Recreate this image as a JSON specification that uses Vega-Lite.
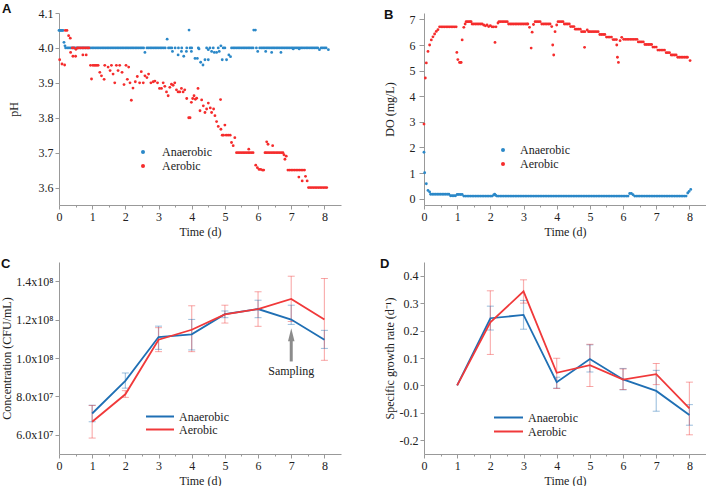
{
"$schema": "https://vega.github.io/schema/vega-lite/v6.json",
"padding": {"left": 0, "top": 3, "right": 0, "bottom": 0},
"background": "white",
"columns": 2,
"bounds": "flush",
"spacing": {"row": 57, "column": 83},
"resolve": {"scale": {"color": "independent"}, "legend": {"color": "independent"}},
"config": {
  "view": {"stroke": null},
  "font": "Liberation Serif",
  "axis": {"domainColor": "#999", "tickColor": "#999", "labelColor": "#222", "titleColor": "#222", "labelFont": "Liberation Serif", "titleFont": "Liberation Serif", "labelFontSize": 12, "titleFontSize": 12, "titleFontWeight": "normal", "grid": false, "tickSize": 4, "labelPadding": 2, "labelOverlap": false},
  "legend": {"labelFont": "Liberation Serif", "labelFontSize": 12, "labelColor": "#222"}
},
"datasets": {
"pha": [{"t":0,"v":4.05},{"t":0.03,"v":4.05},{"t":0.06,"v":4.05},{"t":0.09,"v":4.05},{"t":0.12,"v":4.05},{"t":0.15,"v":4.016},{"t":0.18,"v":4.006},
{"t":0.2,"v":4},{"t":0.25,"v":4},{"t":0.3,"v":4},{"t":0.35,"v":4},{"t":0.4,"v":4},{"t":0.45,"v":4},{"t":0.5,"v":4},{"t":0.55,"v":4},{"t":0.6,"v":4},{"t":0.65,"v":4},{"t":0.7,"v":4},{"t":0.75,"v":4},{"t":0.8,"v":4},{"t":0.85,"v":4},{"t":0.9,"v":4},{"t":0.95,"v":4},{"t":1,"v":4},{"t":1.05,"v":4},{"t":1.1,"v":4},{"t":1.15,"v":4},{"t":1.2,"v":4},{"t":1.25,"v":4},{"t":1.3,"v":4},{"t":1.35,"v":4},{"t":1.4,"v":4},{"t":1.45,"v":4},{"t":1.5,"v":4},{"t":1.55,"v":4},{"t":1.6,"v":4},{"t":1.65,"v":4},{"t":1.7,"v":4},{"t":1.75,"v":4},{"t":1.8,"v":4},{"t":1.85,"v":4},{"t":1.9,"v":4},{"t":1.95,"v":4},{"t":2,"v":4},{"t":2.05,"v":4},{"t":2.1,"v":4},{"t":2.15,"v":4},{"t":2.2,"v":4},{"t":2.25,"v":4},{"t":2.3,"v":4},{"t":2.35,"v":4},{"t":2.4,"v":4},{"t":2.45,"v":4},{"t":2.5,"v":4},{"t":2.55,"v":4},{"t":2.65,"v":4},{"t":2.7,"v":4},{"t":2.75,"v":4},{"t":2.8,"v":4},{"t":2.85,"v":4},{"t":2.9,"v":4},{"t":2.95,"v":4},{"t":3,"v":4},{"t":3.05,"v":4},{"t":3.1,"v":4},{"t":3.15,"v":4},{"t":3.2,"v":4},{"t":3.3,"v":4},{"t":3.35,"v":4},{"t":3.4,"v":4},{"t":3.5,"v":4},{"t":3.6,"v":4},{"t":3.7,"v":4},{"t":3.85,"v":4},{"t":3.95,"v":4},{"t":4.0,"v":4},{"t":4.2,"v":4},{"t":4.45,"v":4},{"t":4.55,"v":4},{"t":4.65,"v":4},{"t":4.8,"v":4},{"t":4.95,"v":4},{"t":5.0,"v":4},{"t":5.2,"v":4},{"t":5.25,"v":4},{"t":5.3,"v":4},{"t":5.35,"v":4},{"t":5.4,"v":4},{"t":5.45,"v":4},{"t":5.5,"v":4},{"t":5.55,"v":4},{"t":5.6,"v":4},{"t":5.65,"v":4},{"t":5.7,"v":4},{"t":5.75,"v":4},{"t":5.8,"v":4},{"t":5.85,"v":4},{"t":5.95,"v":4},{"t":6.05,"v":4},{"t":6.1,"v":4},{"t":6.15,"v":4},{"t":6.2,"v":4},{"t":6.25,"v":4},{"t":6.3,"v":4},{"t":6.35,"v":4},{"t":6.4,"v":4},{"t":6.45,"v":4},{"t":6.5,"v":4},{"t":6.55,"v":4},{"t":6.6,"v":4},{"t":6.65,"v":4},{"t":6.7,"v":4},{"t":6.75,"v":4},{"t":6.8,"v":4},{"t":6.85,"v":4},{"t":6.9,"v":4},{"t":6.95,"v":4},{"t":7,"v":4},{"t":7.05,"v":4},{"t":7.1,"v":4},{"t":7.15,"v":4},{"t":7.2,"v":4},{"t":7.25,"v":4},{"t":7.3,"v":4},{"t":7.35,"v":4},{"t":7.4,"v":4},{"t":7.45,"v":4},{"t":7.5,"v":4},{"t":7.55,"v":4},{"t":7.6,"v":4},{"t":7.65,"v":4},{"t":7.7,"v":4},{"t":7.75,"v":4},{"t":7.8,"v":4},{"t":7.9,"v":4},{"t":7.95,"v":4},{"t":8,"v":4},{"t":8.05,"v":4},
{"t":2.59,"v":3.987},{"t":3.26,"v":4.025},{"t":3.42,"v":3.99},{"t":3.59,"v":3.98},{"t":3.69,"v":3.99},{"t":3.76,"v":3.976},{"t":3.84,"v":3.99},{"t":3.92,"v":4.051},{"t":3.99,"v":3.99},{"t":4.1,"v":3.97},{"t":4.17,"v":3.97},{"t":4.22,"v":3.997},{"t":4.27,"v":3.959},{"t":4.34,"v":3.951},{"t":4.4,"v":3.966},{"t":4.5,"v":3.966},{"t":4.5,"v":3.995},{"t":4.6,"v":3.99},{"t":4.68,"v":3.987},{"t":4.75,"v":3.987},{"t":4.83,"v":3.99},{"t":4.88,"v":4.006},{"t":4.92,"v":3.966},{"t":5.05,"v":3.966},{"t":5.12,"v":3.98},{"t":5.17,"v":3.975},{"t":5.87,"v":4.051},{"t":5.92,"v":4.051},{"t":5.99,"v":3.99},{"t":6.23,"v":3.99},{"t":6.41,"v":3.987},{"t":6.69,"v":3.987},{"t":7.06,"v":3.997},{"t":7.24,"v":3.997},{"t":7.85,"v":3.995},{"t":8.12,"v":3.995}],
"phb": [{"t":0.02,"v":3.966},{"t":0.09,"v":3.954},{"t":0.17,"v":3.951},{"t":0.19,"v":4.05},{"t":0.24,"v":4.05},{"t":0.29,"v":4.035},{"t":0.34,"v":4.028},{"t":0.35,"v":3.987},{"t":0.42,"v":3.976},{"t":0.5,"v":3.976},{"t":0.4,"v":4},{"t":0.45,"v":4},{"t":0.55,"v":4},{"t":0.6,"v":4},{"t":0.65,"v":4},{"t":0.7,"v":4},{"t":0.75,"v":4},{"t":0.8,"v":4},{"t":0.85,"v":4},{"t":0.9,"v":4},{"t":0.51,"v":3.996},{"t":0.72,"v":3.98},{"t":0.82,"v":3.98},
{"t":0.95,"v":3.95},{"t":0.98,"v":3.911},{"t":1.02,"v":3.95},{"t":1.06,"v":3.95},{"t":1.1,"v":3.95},{"t":1.14,"v":3.95},{"t":1.18,"v":3.95},{"t":1.23,"v":3.93},{"t":1.28,"v":3.92},{"t":1.36,"v":3.91},{"t":1.38,"v":3.95},{"t":1.48,"v":3.945},{"t":1.54,"v":3.935},{"t":1.58,"v":3.95},{"t":1.63,"v":3.925},{"t":1.68,"v":3.9},{"t":1.73,"v":3.95},{"t":1.78,"v":3.935},{"t":1.83,"v":3.95},{"t":1.9,"v":3.93},{"t":1.96,"v":3.895},{"t":2.02,"v":3.95},{"t":2.06,"v":3.91},{"t":2.1,"v":3.945},{"t":2.14,"v":3.9},{"t":2.18,"v":3.85},{"t":2.23,"v":3.885},{"t":2.3,"v":3.903},{"t":2.36,"v":3.918},{"t":2.43,"v":3.9},{"t":2.48,"v":3.932},{"t":2.54,"v":3.9},{"t":2.59,"v":3.92},{"t":2.65,"v":3.915},{"t":2.7,"v":3.925},{"t":2.77,"v":3.9},{"t":2.84,"v":3.903},{"t":2.89,"v":3.905},{"t":2.97,"v":3.9},{"t":3.03,"v":3.884},{"t":3.09,"v":3.884},{"t":3.14,"v":3.9},{"t":3.19,"v":3.89},{"t":3.24,"v":3.874},{"t":3.29,"v":3.863},{"t":3.34,"v":3.887},{"t":3.39,"v":3.896},{"t":3.44,"v":3.893},{"t":3.49,"v":3.9},{"t":3.54,"v":3.88},{"t":3.59,"v":3.874},{"t":3.64,"v":3.874},{"t":3.69,"v":3.884},{"t":3.74,"v":3.874},{"t":3.79,"v":3.88},{"t":3.85,"v":3.855},{"t":3.91,"v":3.8},{"t":3.95,"v":3.8},{"t":3.99,"v":3.844},{"t":4.03,"v":3.855},{"t":4.07,"v":3.863},{"t":4.11,"v":3.853},{"t":4.15,"v":3.856},{"t":4.19,"v":3.884},{"t":4.25,"v":3.82},{"t":4.3,"v":3.851},{"t":4.35,"v":3.834},{"t":4.4,"v":3.815},{"t":4.45,"v":3.825},{"t":4.5,"v":3.842},{"t":4.56,"v":3.828},{"t":4.6,"v":3.815},{"t":4.66,"v":3.825},{"t":4.7,"v":3.806},{"t":4.75,"v":3.789},{"t":4.8,"v":3.775},{"t":4.87,"v":3.852},{"t":4.88,"v":3.767},{"t":4.92,"v":3.75},{"t":4.96,"v":3.75},{"t":5.0,"v":3.779},{"t":5.04,"v":3.75},{"t":5.1,"v":3.75},{"t":5.16,"v":3.75},{"t":5.2,"v":3.729},{"t":5.25,"v":3.72},{"t":5.3,"v":3.743},
{"t":5.35,"v":3.7},{"t":5.4,"v":3.7},{"t":5.45,"v":3.7},{"t":5.5,"v":3.7},{"t":5.55,"v":3.7},{"t":5.6,"v":3.7},{"t":5.65,"v":3.7},{"t":5.7,"v":3.7},{"t":5.75,"v":3.7},{"t":5.8,"v":3.7},{"t":5.85,"v":3.7},{"t":5.72,"v":3.71},
{"t":5.93,"v":3.664},{"t":5.98,"v":3.657},{"t":6.03,"v":3.652},{"t":6.08,"v":3.652},{"t":6.13,"v":3.65},{"t":6.17,"v":3.65},{"t":6.26,"v":3.731},{"t":6.3,"v":3.724},
{"t":6.21,"v":3.7},{"t":6.25,"v":3.7},{"t":6.3,"v":3.7},{"t":6.35,"v":3.7},{"t":6.4,"v":3.7},{"t":6.45,"v":3.7},{"t":6.5,"v":3.7},{"t":6.55,"v":3.7},{"t":6.6,"v":3.7},{"t":6.65,"v":3.7},{"t":6.7,"v":3.7},{"t":6.75,"v":3.7},{"t":6.44,"v":3.72},
{"t":6.78,"v":3.694},{"t":6.81,"v":3.681},{"t":6.85,"v":3.69},
{"t":6.9,"v":3.65},{"t":6.95,"v":3.65},{"t":7.0,"v":3.65},{"t":7.05,"v":3.65},{"t":7.1,"v":3.65},{"t":7.15,"v":3.65},{"t":7.2,"v":3.65},{"t":7.25,"v":3.65},{"t":7.3,"v":3.65},{"t":7.35,"v":3.65},{"t":7.4,"v":3.65},{"t":7.23,"v":3.63},{"t":7.33,"v":3.619},{"t":7.43,"v":3.632},{"t":7.48,"v":3.619},
{"t":7.52,"v":3.6},{"t":7.57,"v":3.6},{"t":7.62,"v":3.6},{"t":7.67,"v":3.6},{"t":7.72,"v":3.6},{"t":7.77,"v":3.6},{"t":7.82,"v":3.6},{"t":7.87,"v":3.6},{"t":7.92,"v":3.6},{"t":7.97,"v":3.6},{"t":8.02,"v":3.6},{"t":8.07,"v":3.6}],
"doa": [{"t":0,"v":1.81},{"t":0.02,"v":1.01},{"t":0.07,"v":0.58},{"t":0.12,"v":0.32},{"t":0.17,"v":0.26},
{"t":0.2,"v":0.17},{"t":0.25,"v":0.17},{"t":0.3,"v":0.17},{"t":0.35,"v":0.17},{"t":0.4,"v":0.17},{"t":0.45,"v":0.17},{"t":0.5,"v":0.17},{"t":0.55,"v":0.17},{"t":0.6,"v":0.17},{"t":0.65,"v":0.17},{"t":0.7,"v":0.17},{"t":0.75,"v":0.17},
{"t":0.8,"v":0.11},{"t":0.85,"v":0.11},{"t":0.9,"v":0.11},{"t":0.95,"v":0.11},
{"t":1.0,"v":0.16},{"t":1.05,"v":0.16},{"t":1.1,"v":0.16},{"t":1.15,"v":0.16},
{"t":1.2,"v":0.1},{"t":1.25,"v":0.1},{"t":1.3,"v":0.1},{"t":1.35,"v":0.1},{"t":1.4,"v":0.1},{"t":1.45,"v":0.1},{"t":1.5,"v":0.1},{"t":1.55,"v":0.1},{"t":1.6,"v":0.1},{"t":1.65,"v":0.1},{"t":1.7,"v":0.1},{"t":1.75,"v":0.1},{"t":1.8,"v":0.1},{"t":1.85,"v":0.1},{"t":1.9,"v":0.1},{"t":1.95,"v":0.1},{"t":2.0,"v":0.1},{"t":2.05,"v":0.1},
{"t":2.1,"v":0.14},{"t":2.13,"v":0.17},{"t":2.16,"v":0.13},
{"t":2.2,"v":0.1},{"t":2.25,"v":0.1},{"t":2.3,"v":0.1},{"t":2.35,"v":0.1},{"t":2.4,"v":0.1},{"t":2.45,"v":0.1},{"t":2.5,"v":0.1},{"t":2.55,"v":0.1},{"t":2.6,"v":0.1},{"t":2.65,"v":0.1},{"t":2.7,"v":0.1},{"t":2.75,"v":0.1},{"t":2.8,"v":0.1},{"t":2.85,"v":0.1},{"t":2.9,"v":0.1},{"t":2.95,"v":0.1},{"t":3.0,"v":0.1},{"t":3.05,"v":0.1},{"t":3.1,"v":0.1},{"t":3.15,"v":0.1},{"t":3.2,"v":0.1},{"t":3.25,"v":0.1},{"t":3.3,"v":0.1},{"t":3.35,"v":0.1},{"t":3.4,"v":0.1},{"t":3.45,"v":0.1},{"t":3.5,"v":0.1},{"t":3.55,"v":0.1},{"t":3.6,"v":0.1},{"t":3.65,"v":0.1},{"t":3.7,"v":0.1},{"t":3.75,"v":0.1},{"t":3.8,"v":0.1},{"t":3.85,"v":0.1},{"t":3.9,"v":0.1},{"t":3.95,"v":0.1},{"t":4.0,"v":0.1},{"t":4.05,"v":0.1},{"t":4.1,"v":0.1},{"t":4.15,"v":0.1},{"t":4.2,"v":0.1},{"t":4.25,"v":0.1},{"t":4.3,"v":0.1},{"t":4.35,"v":0.1},{"t":4.4,"v":0.1},{"t":4.45,"v":0.1},{"t":4.5,"v":0.1},{"t":4.55,"v":0.1},{"t":4.6,"v":0.1},{"t":4.65,"v":0.1},{"t":4.7,"v":0.1},{"t":4.75,"v":0.1},{"t":4.8,"v":0.1},{"t":4.85,"v":0.1},{"t":4.9,"v":0.1},{"t":4.95,"v":0.1},{"t":5.0,"v":0.1},{"t":5.05,"v":0.1},{"t":5.1,"v":0.1},{"t":5.15,"v":0.1},{"t":5.2,"v":0.1},{"t":5.25,"v":0.1},{"t":5.3,"v":0.1},{"t":5.35,"v":0.1},{"t":5.4,"v":0.1},{"t":5.45,"v":0.1},{"t":5.5,"v":0.1},{"t":5.55,"v":0.1},{"t":5.6,"v":0.1},{"t":5.65,"v":0.1},{"t":5.7,"v":0.1},{"t":5.75,"v":0.1},{"t":5.8,"v":0.1},{"t":5.85,"v":0.1},{"t":5.9,"v":0.1},{"t":5.95,"v":0.1},{"t":6.0,"v":0.1},{"t":6.05,"v":0.1},{"t":6.1,"v":0.1},{"t":6.15,"v":0.1},
{"t":6.2,"v":0.2},{"t":6.25,"v":0.2},{"t":6.3,"v":0.15},
{"t":6.35,"v":0.1},{"t":6.4,"v":0.1},{"t":6.45,"v":0.1},{"t":6.5,"v":0.1},{"t":6.55,"v":0.1},{"t":6.6,"v":0.1},{"t":6.65,"v":0.1},{"t":6.7,"v":0.1},{"t":6.75,"v":0.1},{"t":6.8,"v":0.1},{"t":6.85,"v":0.1},{"t":6.9,"v":0.1},{"t":6.95,"v":0.1},{"t":7.0,"v":0.1},{"t":7.05,"v":0.1},{"t":7.1,"v":0.1},{"t":7.15,"v":0.1},{"t":7.2,"v":0.1},{"t":7.25,"v":0.1},{"t":7.3,"v":0.1},{"t":7.35,"v":0.1},{"t":7.4,"v":0.1},{"t":7.45,"v":0.1},{"t":7.5,"v":0.1},{"t":7.55,"v":0.1},{"t":7.6,"v":0.1},{"t":7.65,"v":0.1},{"t":7.7,"v":0.1},{"t":7.75,"v":0.1},{"t":7.8,"v":0.1},{"t":7.85,"v":0.1},{"t":7.9,"v":0.1},
{"t":7.95,"v":0.22},{"t":7.99,"v":0.28},{"t":8.04,"v":0.36}],
"dob": [{"t":0,"v":2.91},{"t":0.04,"v":4.71},{"t":0.07,"v":5.3},{"t":0.12,"v":5.75},{"t":0.17,"v":6.0},{"t":0.22,"v":6.2},{"t":0.27,"v":6.32},{"t":0.32,"v":6.43},{"t":0.37,"v":6.53},{"t":0.42,"v":6.6},
{"t":0.47,"v":6.71},{"t":0.52,"v":6.71},{"t":0.57,"v":6.71},{"t":0.62,"v":6.71},{"t":0.67,"v":6.71},{"t":0.72,"v":6.71},{"t":0.77,"v":6.71},{"t":0.82,"v":6.71},{"t":0.87,"v":6.71},{"t":0.92,"v":6.71},{"t":0.97,"v":6.71},
{"t":0.99,"v":5.71},{"t":1.02,"v":5.43},{"t":1.07,"v":5.32},{"t":1.1,"v":5.32},{"t":1.12,"v":5.32},{"t":1.15,"v":6.2},{"t":1.2,"v":6.69},{"t":1.24,"v":6.82},
{"t":1.27,"v":6.91},{"t":1.31,"v":6.91},{"t":1.35,"v":6.91},{"t":1.39,"v":6.91},{"t":1.42,"v":6.91},
{"t":1.45,"v":6.82},{"t":1.5,"v":6.82},{"t":1.55,"v":6.82},{"t":1.6,"v":6.82},{"t":1.65,"v":6.82},{"t":1.7,"v":6.82},{"t":1.75,"v":6.82},
{"t":1.8,"v":6.78},{"t":1.85,"v":6.75},{"t":1.9,"v":6.78},{"t":1.95,"v":6.72},{"t":2.0,"v":6.76},{"t":2.05,"v":6.71},{"t":2.1,"v":6.71},{"t":2.14,"v":6.1},{"t":2.17,"v":6.71},{"t":2.23,"v":6.86},
{"t":2.26,"v":6.91},{"t":2.31,"v":6.91},{"t":2.36,"v":6.91},{"t":2.41,"v":6.91},{"t":2.46,"v":6.91},{"t":2.51,"v":6.91},
{"t":2.55,"v":6.82},{"t":2.6,"v":6.82},{"t":2.65,"v":6.82},{"t":2.7,"v":6.82},{"t":2.75,"v":6.82},{"t":2.8,"v":6.82},{"t":2.85,"v":6.82},{"t":2.9,"v":6.82},{"t":2.95,"v":6.82},{"t":3.0,"v":6.82},{"t":3.05,"v":6.82},{"t":3.1,"v":6.82},{"t":3.13,"v":6.82},
{"t":3.18,"v":6.69},{"t":3.23,"v":5.88},{"t":3.26,"v":6.5},{"t":3.3,"v":6.8},
{"t":3.35,"v":6.91},{"t":3.4,"v":6.91},{"t":3.45,"v":6.91},{"t":3.5,"v":6.91},
{"t":3.55,"v":6.82},{"t":3.6,"v":6.82},{"t":3.65,"v":6.82},{"t":3.7,"v":6.82},{"t":3.75,"v":6.82},{"t":3.8,"v":6.82},
{"t":3.85,"v":6.72},{"t":3.88,"v":6.0},{"t":3.91,"v":5.61},{"t":3.95,"v":6.52},{"t":4.0,"v":6.78},
{"t":4.04,"v":6.91},{"t":4.09,"v":6.91},{"t":4.14,"v":6.91},{"t":4.19,"v":6.91},
{"t":4.23,"v":6.82},{"t":4.28,"v":6.82},{"t":4.33,"v":6.82},{"t":4.38,"v":6.82},
{"t":4.42,"v":6.72},{"t":4.47,"v":6.72},{"t":4.52,"v":6.72},
{"t":4.56,"v":6.62},{"t":4.61,"v":6.62},{"t":4.66,"v":6.62},{"t":4.71,"v":6.62},
{"t":4.75,"v":6.52},{"t":4.8,"v":6.52},{"t":4.85,"v":6.52},{"t":4.84,"v":5.91},{"t":4.92,"v":6.59},
{"t":4.96,"v":6.52},{"t":5.0,"v":6.52},{"t":5.05,"v":6.52},{"t":5.1,"v":6.52},{"t":5.15,"v":6.52},{"t":5.2,"v":6.52},{"t":5.25,"v":6.52},
{"t":5.3,"v":6.41},{"t":5.35,"v":6.41},{"t":5.4,"v":6.41},{"t":5.45,"v":6.41},
{"t":5.5,"v":6.31},{"t":5.55,"v":6.31},{"t":5.6,"v":6.31},{"t":5.65,"v":6.31},
{"t":5.7,"v":6.21},{"t":5.75,"v":6.21},{"t":5.8,"v":6.21},
{"t":5.81,"v":6.0},{"t":5.83,"v":5.52},{"t":5.86,"v":5.32},{"t":5.91,"v":6.17},{"t":5.96,"v":6.3},
{"t":6.02,"v":6.22},{"t":6.07,"v":6.22},{"t":6.12,"v":6.22},{"t":6.17,"v":6.22},{"t":6.22,"v":6.22},{"t":6.27,"v":6.22},{"t":6.32,"v":6.22},{"t":6.37,"v":6.22},{"t":6.42,"v":6.22},
{"t":6.46,"v":6.12},{"t":6.51,"v":6.12},{"t":6.56,"v":6.12},{"t":6.61,"v":6.12},
{"t":6.66,"v":6.02},{"t":6.71,"v":6.02},{"t":6.76,"v":6.02},{"t":6.81,"v":6.02},{"t":6.86,"v":6.02},
{"t":6.9,"v":5.92},{"t":6.95,"v":5.92},{"t":7.0,"v":5.92},
{"t":7.05,"v":5.8},{"t":7.1,"v":5.8},{"t":7.15,"v":5.8},{"t":7.2,"v":5.8},{"t":7.25,"v":5.8},
{"t":7.3,"v":5.7},{"t":7.35,"v":5.7},{"t":7.4,"v":5.7},
{"t":7.45,"v":5.61},{"t":7.5,"v":5.61},{"t":7.55,"v":5.61},{"t":7.6,"v":5.61},
{"t":7.65,"v":5.52},{"t":7.7,"v":5.52},{"t":7.75,"v":5.52},{"t":7.8,"v":5.52},{"t":7.85,"v":5.52},{"t":7.9,"v":5.52},{"t":7.94,"v":5.52},
{"t":8.02,"v":5.39}],
"concAn": [
{"d":1,"v":7.11e7,"lo":6.68e7,"hi":7.54e7},
{"d":2,"v":8.81e7,"lo":8.43e7,"hi":9.22e7},
{"d":3,"v":1.109e8,"lo":1.045e8,"hi":1.166e8},
{"d":4,"v":1.123e8,"lo":1.042e8,"hi":1.201e8},
{"d":5,"v":1.228e8,"lo":1.21e8,"hi":1.245e8},
{"d":6,"v":1.255e8,"lo":1.21e8,"hi":1.301e8},
{"d":7,"v":1.2e8,"lo":1.175e8,"hi":1.275e8},
{"d":8,"v":1.095e8,"lo":1.05e8,"hi":1.144e8}],
"concAe": [
{"d":1,"v":6.68e7,"lo":5.83e7,"hi":7.53e7},
{"d":2,"v":8.11e7,"lo":7.95e7,"hi":8.3e7},
{"d":3,"v":1.095e8,"lo":1.033e8,"hi":1.158e8},
{"d":4,"v":1.147e8,"lo":1.033e8,"hi":1.272e8},
{"d":5,"v":1.227e8,"lo":1.182e8,"hi":1.275e8},
{"d":6,"v":1.255e8,"lo":1.165e8,"hi":1.345e8},
{"d":7,"v":1.308e8,"lo":1.19e8,"hi":1.426e8},
{"d":8,"v":1.201e8,"lo":9.88e7,"hi":1.414e8}],
"rate": [
{"s":"Anaerobic","d":1,"v":0},
{"s":"Anaerobic","d":2,"v":0.245,"lo":0.202,"hi":0.289},
{"s":"Anaerobic","d":3,"v":0.257,"lo":0.205,"hi":0.31},
{"s":"Anaerobic","d":4,"v":0.012,"lo":-0.01,"hi":0.03},
{"s":"Anaerobic","d":5,"v":0.096,"lo":0.049,"hi":0.148},
{"s":"Anaerobic","d":6,"v":0.022,"lo":-0.016,"hi":0.062},
{"s":"Anaerobic","d":7,"v":-0.02,"lo":-0.094,"hi":0.055},
{"s":"Anaerobic","d":8,"v":-0.108,"lo":-0.145,"hi":-0.07},
{"s":"Aerobic","d":1,"v":0},
{"s":"Aerobic","d":2,"v":0.23,"lo":0.113,"hi":0.345},
{"s":"Aerobic","d":3,"v":0.343,"lo":0.3,"hi":0.385},
{"s":"Aerobic","d":4,"v":0.046,"lo":-0.011,"hi":0.099},
{"s":"Aerobic","d":5,"v":0.074,"lo":-0.004,"hi":0.15},
{"s":"Aerobic","d":6,"v":0.021,"lo":-0.015,"hi":0.06},
{"s":"Aerobic","d":7,"v":0.041,"lo":0.003,"hi":0.08},
{"s":"Aerobic","d":8,"v":-0.084,"lo":-0.18,"hi":0.012}]
},
"concat": [
{
  "width": 282, "height": 192,
  "title": {"text": "A", "anchor": "start", "frame": "group", "dx": -57, "offset": -9, "font": "Liberation Sans", "fontSize": 13, "fontWeight": "bold", "color": "#111"},
  "layer": [
    {"data": {"name": "pha"}, "mark": {"type": "point", "filled": true, "size": 8, "opacity": 1},
     "encoding": {
       "x": {"field": "t", "type": "quantitative", "scale": {"domain": [0, 8.5], "nice": false, "zero": false},
             "axis": {"title": "Time (d)", "values": [0,0.5,1,1.5,2,2.5,3,3.5,4,4.5,5,5.5,6,6.5,7,7.5,8], "tickCount": 100, "labelExpr": "datum.value % 1 == 0 ? format(datum.value, 'd') : ''", "tickSize": {"condition": {"test": "datum.value % 1 != 0", "value": 2}, "value": 4}, "labelFlush": false, "labelOverlap": false, "titlePadding": 4}},
       "y": {"field": "v", "type": "quantitative", "scale": {"domain": [3.55, 4.1], "nice": false, "zero": false},
             "axis": {"title": "pH", "values": [3.6, 3.7, 3.8, 3.9, 4.0, 4.1], "tickCount": 100, "format": ".1f", "titlePadding": 18, "labelOverlap": false}},
       "color": {"datum": "Anaerobic", "type": "nominal", "scale": {"domain": ["Anaerobic", "Aerobic"], "range": ["#2b88c8", "#f52c2c"]},
                 "legend": {"title": null, "orient": "none", "legendX": 78, "legendY": 133, "symbolType": "circle", "symbolSize": 16, "labelOffset": 13, "rowPadding": 2, "symbolOpacity": 1}}
     }},
    {"data": {"name": "phb"}, "mark": {"type": "point", "filled": true, "size": 8, "opacity": 1},
     "encoding": {"x": {"field": "t", "type": "quantitative"}, "y": {"field": "v", "type": "quantitative"}, "color": {"datum": "Aerobic", "type": "nominal"}}}
  ]
},
{
  "width": 282, "height": 192,
  "title": {"text": "B", "anchor": "start", "frame": "group", "dx": -40, "offset": -9, "font": "Liberation Sans", "fontSize": 13, "fontWeight": "bold", "color": "#111"},
  "layer": [
    {"data": {"name": "doa"}, "mark": {"type": "point", "filled": true, "size": 8, "opacity": 1},
     "encoding": {
       "x": {"field": "t", "type": "quantitative", "scale": {"domain": [0, 8.5], "nice": false, "zero": false},
             "axis": {"title": "Time (d)", "values": [0,0.5,1,1.5,2,2.5,3,3.5,4,4.5,5,5.5,6,6.5,7,7.5,8], "tickCount": 100, "labelExpr": "datum.value % 1 == 0 ? format(datum.value, 'd') : ''", "tickSize": {"condition": {"test": "datum.value % 1 != 0", "value": 2}, "value": 4}, "labelFlush": false, "labelOverlap": false, "titlePadding": 4}},
       "y": {"field": "v", "type": "quantitative", "scale": {"domain": [-0.25, 7.25], "nice": false, "zero": false},
             "axis": {"title": "DO (mg/L)", "values": [0,1,2,3,4,5,6,7], "tickCount": 100, "format": "d", "titlePadding": 13, "tickSize": 5, "labelPadding": 4, "labelOverlap": false}},
       "color": {"datum": "Anaerobic", "type": "nominal", "scale": {"domain": ["Anaerobic", "Aerobic"], "range": ["#2b88c8", "#f52c2c"]},
                 "legend": {"title": null, "orient": "none", "legendX": 73, "legendY": 131, "symbolType": "circle", "symbolSize": 16, "labelOffset": 11, "rowPadding": 2, "symbolOpacity": 1}}
     }},
    {"data": {"name": "dob"}, "mark": {"type": "point", "filled": true, "size": 8, "opacity": 1},
     "encoding": {"x": {"field": "t", "type": "quantitative"}, "y": {"field": "v", "type": "quantitative"}, "color": {"datum": "Aerobic", "type": "nominal"}}}
  ]
},
{
  "width": 282, "height": 192,
  "title": {"text": "C", "anchor": "start", "frame": "group", "dx": -58, "offset": -9, "font": "Liberation Sans", "fontSize": 13, "fontWeight": "bold", "color": "#111"},
  "layer": [
    {"data": {"name": "concAn"}, "mark": {"type": "rule", "strokeWidth": 1.2, "color": "#1f6fb4", "opacity": 0.4},
     "encoding": {
       "x": {"field": "d", "type": "quantitative", "scale": {"domain": [0, 8.5], "nice": false, "zero": false},
             "axis": {"title": "Time (d)", "values": [0,0.5,1,1.5,2,2.5,3,3.5,4,4.5,5,5.5,6,6.5,7,7.5,8], "tickCount": 100, "labelExpr": "datum.value % 1 == 0 ? format(datum.value, 'd') : ''", "tickSize": {"condition": {"test": "datum.value % 1 != 0", "value": 2}, "value": 4}, "labelFlush": false, "labelOverlap": false, "titlePadding": 4}},
       "y": {"field": "lo", "type": "quantitative", "scale": {"domain": [5e7, 1.5e8], "nice": false, "zero": false},
             "axis": {"title": "Concentration (CFU/mL)", "values": [6e7, 8e7, 1e8, 1.2e8, 1.4e8], "tickCount": 100, "labelExpr": "format(datum.value / (datum.value < 9e7 ? 1e7 : 1e8), '.1f') + 'x10' + (datum.value < 9e7 ? '⁷' : '⁸')", "titlePadding": 2, "labelOverlap": false}},
       "y2": {"field": "hi"}
     }},
    {"data": {"name": "concAe"}, "mark": {"type": "rule", "strokeWidth": 1.2, "color": "#f0393a", "opacity": 0.4},
     "encoding": {"x": {"field": "d", "type": "quantitative"}, "y": {"field": "lo", "type": "quantitative"}, "y2": {"field": "hi"}}},
    {"data": {"name": "concAn"}, "mark": {"type": "tick", "orient": "horizontal", "size": 7, "thickness": 1, "color": "#1f6fb4", "opacity": 0.45},
     "encoding": {"x": {"field": "d", "type": "quantitative"}, "y": {"field": "lo", "type": "quantitative"}}},
    {"data": {"name": "concAn"}, "mark": {"type": "tick", "orient": "horizontal", "size": 7, "thickness": 1, "color": "#1f6fb4", "opacity": 0.45},
     "encoding": {"x": {"field": "d", "type": "quantitative"}, "y": {"field": "hi", "type": "quantitative"}}},
    {"data": {"name": "concAe"}, "mark": {"type": "tick", "orient": "horizontal", "size": 7, "thickness": 1, "color": "#f0393a", "opacity": 0.45},
     "encoding": {"x": {"field": "d", "type": "quantitative"}, "y": {"field": "lo", "type": "quantitative"}}},
    {"data": {"name": "concAe"}, "mark": {"type": "tick", "orient": "horizontal", "size": 7, "thickness": 1, "color": "#f0393a", "opacity": 0.45},
     "encoding": {"x": {"field": "d", "type": "quantitative"}, "y": {"field": "hi", "type": "quantitative"}}},
    {"data": {"name": "concAn"}, "mark": {"type": "line", "strokeWidth": 1.8},
     "encoding": {"x": {"field": "d", "type": "quantitative"}, "y": {"field": "v", "type": "quantitative"},
       "color": {"datum": "Anaerobic", "type": "nominal", "scale": {"domain": ["Anaerobic", "Aerobic"], "range": ["#1f6fb4", "#f0393a"]},
                 "legend": {"title": null, "orient": "none", "legendX": 86, "legendY": 148, "symbolType": "stroke", "symbolSize": 784, "symbolStrokeWidth": 2, "labelOffset": 4, "clipHeight": 13, "rowPadding": 0, "symbolOpacity": 1}}}},
    {"data": {"name": "concAe"}, "mark": {"type": "line", "strokeWidth": 1.8},
     "encoding": {"x": {"field": "d", "type": "quantitative"}, "y": {"field": "v", "type": "quantitative"}, "color": {"datum": "Aerobic", "type": "nominal"}}},
    {"data": {"values": [{"d": 7, "lo": 9.82e7, "hi": 1.09e8}]}, "mark": {"type": "rule", "strokeWidth": 3, "color": "#8c8c8c"},
     "encoding": {"x": {"field": "d", "type": "quantitative"}, "y": {"field": "lo", "type": "quantitative"}, "y2": {"field": "hi"}}},
    {"data": {"values": [{"d": 7, "v": 1.121e8}]}, "mark": {"type": "point", "shape": "M0,-1L0.5,1L-0.5,1Z", "filled": true, "size": 169, "color": "#8c8c8c", "opacity": 1},
     "encoding": {"x": {"field": "d", "type": "quantitative"}, "y": {"field": "v", "type": "quantitative"}}},
    {"data": {"values": [{"d": 7, "v": 9.31e7, "label": "Sampling"}]}, "mark": {"type": "text", "font": "Liberation Serif", "fontSize": 12, "color": "#222"},
     "encoding": {"x": {"field": "d", "type": "quantitative"}, "y": {"field": "v", "type": "quantitative"}, "text": {"field": "label"}}}
  ]
},
{
  "width": 282, "height": 192,
  "title": {"text": "D", "anchor": "start", "frame": "group", "dx": -44, "offset": -9, "font": "Liberation Sans", "fontSize": 13, "fontWeight": "bold", "color": "#111"},
  "layer": [
    {"data": {"name": "rate"}, "transform": [{"filter": "datum.s == 'Anaerobic'"}], "mark": {"type": "rule", "strokeWidth": 1.2, "color": "#1f6fb4", "opacity": 0.4},
     "encoding": {
       "x": {"field": "d", "type": "quantitative", "scale": {"domain": [0, 8.5], "nice": false, "zero": false},
             "axis": {"title": "Time (d)", "values": [0,0.5,1,1.5,2,2.5,3,3.5,4,4.5,5,5.5,6,6.5,7,7.5,8], "tickCount": 100, "labelExpr": "datum.value % 1 == 0 ? format(datum.value, 'd') : ''", "tickSize": {"condition": {"test": "datum.value % 1 != 0", "value": 2}, "value": 4}, "labelFlush": false, "labelOverlap": false, "titlePadding": 4}},
       "y": {"field": "lo", "type": "quantitative", "scale": {"domain": [-0.25, 0.45], "nice": false, "zero": false},
             "axis": {"title": "Specific growth rate (d⁻¹)", "values": [-0.2, -0.1, 0, 0.1, 0.2, 0.3, 0.4], "tickCount": 100, "labelExpr": "replace(format(datum.value, '.1f'), '−', '-')", "titlePadding": 3, "labelOverlap": false}},
       "y2": {"field": "hi"}
     }},
    {"data": {"name": "rate"}, "transform": [{"filter": "datum.s == 'Aerobic'"}], "mark": {"type": "rule", "strokeWidth": 1.2, "color": "#f0393a", "opacity": 0.4},
     "encoding": {"x": {"field": "d", "type": "quantitative"}, "y": {"field": "lo", "type": "quantitative"}, "y2": {"field": "hi"}}},
    {"data": {"name": "rate"}, "transform": [{"filter": "datum.s == 'Anaerobic'"}], "mark": {"type": "tick", "orient": "horizontal", "size": 7, "thickness": 1, "color": "#1f6fb4", "opacity": 0.45},
     "encoding": {"x": {"field": "d", "type": "quantitative"}, "y": {"field": "lo", "type": "quantitative"}}},
    {"data": {"name": "rate"}, "transform": [{"filter": "datum.s == 'Anaerobic'"}], "mark": {"type": "tick", "orient": "horizontal", "size": 7, "thickness": 1, "color": "#1f6fb4", "opacity": 0.45},
     "encoding": {"x": {"field": "d", "type": "quantitative"}, "y": {"field": "hi", "type": "quantitative"}}},
    {"data": {"name": "rate"}, "transform": [{"filter": "datum.s == 'Aerobic'"}], "mark": {"type": "tick", "orient": "horizontal", "size": 7, "thickness": 1, "color": "#f0393a", "opacity": 0.45},
     "encoding": {"x": {"field": "d", "type": "quantitative"}, "y": {"field": "lo", "type": "quantitative"}}},
    {"data": {"name": "rate"}, "transform": [{"filter": "datum.s == 'Aerobic'"}], "mark": {"type": "tick", "orient": "horizontal", "size": 7, "thickness": 1, "color": "#f0393a", "opacity": 0.45},
     "encoding": {"x": {"field": "d", "type": "quantitative"}, "y": {"field": "hi", "type": "quantitative"}}},
    {"data": {"name": "rate"}, "mark": {"type": "line", "strokeWidth": 1.8},
     "encoding": {"x": {"field": "d", "type": "quantitative"}, "y": {"field": "v", "type": "quantitative"},
       "color": {"field": "s", "type": "nominal", "scale": {"domain": ["Anaerobic", "Aerobic"], "range": ["#1f6fb4", "#f0393a"]},
                 "legend": {"title": null, "orient": "none", "legendX": 69, "legendY": 149, "symbolType": "stroke", "symbolSize": 841, "symbolStrokeWidth": 2, "labelOffset": 4, "clipHeight": 13, "rowPadding": 1, "symbolOpacity": 1}}}}
  ]
}
]
}
